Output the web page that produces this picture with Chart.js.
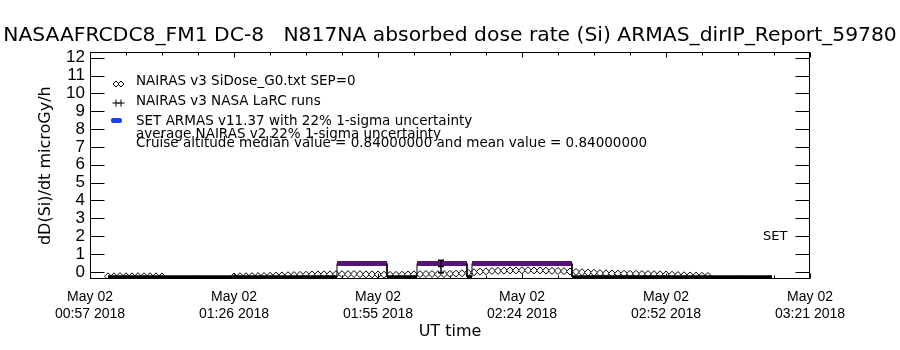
<!DOCTYPE html>
<html>
<head>
<meta charset="utf-8">
<script src="https://cdn.jsdelivr.net/npm/chart.js@4.4.0/dist/chart.umd.min.js"></script>
<style>
  body { margin: 0; background: #fff; }
  canvas { display: block; }
</style>
</head>
<body>
<canvas id="chart" width="900" height="350"></canvas>
<script>
const titleText = 'NASAAFRCDC8_FM1 DC-8   N817NA absorbed dose rate (Si) ARMAS_dirIP_Report_59780';
const yTitle = 'dD(Si)/dt microGy/h';
const xTitle = 'UT time';

// x values are minutes after 00:00 UT on May 02 2018
const xTickMinutes = [57.7, 86.5, 115.3, 144.1, 172.9, 201.7];
const xTickLabels = [
  ['May 02', '00:57 2018'],
  ['May 02', '01:26 2018'],
  ['May 02', '01:55 2018'],
  ['May 02', '02:24 2018'],
  ['May 02', '02:52 2018'],
  ['May 02', '03:21 2018']
];
const yTickValues = [0, 1, 2, 3, 4, 5, 6, 7, 8, 9, 10, 11, 12];

const legendLabels = [
  'NAIRAS v3 SiDose_G0.txt SEP=0',
  'NAIRAS v3 NASA LaRC runs',
  'SET ARMAS v11.37 with 22% 1-sigma uncertainty'
];
const noteLines = [
  'average NAIRAS v2 22% 1-sigma uncertainty',
  'Cruise altitude median value = 0.84000000 and mean value = 0.84000000'
];
const instrumentLabel = 'SET';

// SET ARMAS: flat at the floor, with three measured plateaus
const armasFirst = 61.3;
const armasLast = 194.1;
const armasFloor = -0.28;
const armasStart = [107.1, 123.1, 134.1];
const armasEnd = [117.1, 133.1, 154.1];
const armasDose = [0.47, 0.47, 0.47];

// NAIRAS v3 G0, one sample every 1.2 min
const nairasStart = 61.3;
const nairasStep = 1.2;
const nairasDose = [
  -0.25, -0.25, -0.24, -0.25, -0.25, -0.24, -0.25, -0.25, -0.25, -0.26,
  null, null, null, null, null, null, null, null, null, null, null,
  -0.26, -0.25, -0.25, -0.24, -0.24, -0.23, -0.22,
  -0.21, -0.2, -0.19, -0.18, -0.17, -0.16, -0.15, -0.15, -0.14, -0.14, -0.13,
  -0.13, -0.13, -0.12, -0.13, -0.14, -0.14, -0.15, -0.16, -0.17, -0.17, -0.16,
  -0.15, -0.14, -0.13, -0.12, -0.12, -0.13, -0.12, -0.11, -0.1, -0.08, -0.05,
  -0.02, 0.01, 0.03, 0.05, 0.06, 0.07, 0.08, 0.08, 0.09, 0.09, 0.08, 0.08,
  0.07, 0.06, 0.05, 0.04, 0.02, 0.0,
  -0.02, -0.04, -0.05, -0.07, -0.08, -0.09, -0.1, -0.1, -0.11, -0.11, -0.12,
  -0.12, -0.13, -0.14, -0.15, -0.16, -0.18, -0.19, -0.2, -0.21, -0.22, -0.23
];

// NAIRAS v3 LaRC run with error bar
const larcTime = [127.9];
const larcDose = [0.3];
const larcErr = [0.35];

const purple = '#5a1278';
const blue = '#1e3cff';

const armasPoints = [{x: armasFirst, y: armasFloor}];
armasStart.forEach((t, i) => {
  armasPoints.push({x: t, y: armasFloor});
  armasPoints.push({x: t, y: armasDose[i]});
  armasPoints.push({x: armasEnd[i], y: armasDose[i]});
  armasPoints.push({x: armasEnd[i], y: armasFloor});
});
armasPoints.push({x: armasLast, y: armasFloor});

const nairasPoints = nairasDose.map((v, i) => ({x: nairasStart + i * nairasStep, y: v}));
const larcPoints = larcTime.map((t, i) => ({x: t, y: larcDose[i]}));

function onPlateau(c) {
  return c.p0.parsed.y > 0 && c.p1.parsed.y > 0;
}

const errorBars = {
  id: 'errorBars',
  afterDatasetsDraw(chart) {
    const {ctx, scales: {x, y}} = chart;
    ctx.save();
    ctx.strokeStyle = 'black';
    ctx.lineWidth = 1.5;
    ctx.beginPath();
    larcTime.forEach((t, i) => {
      const px = Math.round(x.getPixelForValue(t));
      const top = y.getPixelForValue(larcDose[i] + larcErr[i]);
      const bot = y.getPixelForValue(larcDose[i] - larcErr[i]);
      ctx.moveTo(px, top); ctx.lineTo(px, bot);
      ctx.moveTo(px - 3, top); ctx.lineTo(px + 3, top);
      ctx.moveTo(px - 3, bot); ctx.lineTo(px + 3, bot);
    });
    ctx.stroke();
    ctx.restore();
  }
};

const frame = {
  id: 'frame',
  afterDraw(chart) {
    const {ctx, chartArea: a, scales: {x, y}} = chart;
    const L = Math.round(a.left) + 0.5, R = Math.round(a.right) - 0.5;
    const T = Math.round(a.top) + 0.5, B = Math.round(a.bottom) - 0.5;
    ctx.save();
    ctx.strokeStyle = 'black';
    ctx.lineWidth = 1;
    ctx.strokeRect(L, T, R - L, B - T);
    ctx.beginPath();
    yTickValues.forEach(v => {
      const py = Math.round(y.getPixelForValue(v)) + 0.5;
      ctx.moveTo(L, py); ctx.lineTo(L + 14, py);
      ctx.moveTo(R, py); ctx.lineTo(R - 14, py);
    });
    xTickMinutes.forEach((v, i) => {
      const px = Math.round(x.getPixelForValue(v)) + 0.5;
      ctx.moveTo(px, T); ctx.lineTo(px, T + 5);
      ctx.moveTo(px, B); ctx.lineTo(px, B - 5);
      if (i < xTickMinutes.length - 1) {
        for (let k = 1; k < 4; k++) {
          const m = v + (xTickMinutes[i + 1] - v) * k / 4;
          const mx = Math.round(x.getPixelForValue(m)) + 0.5;
          ctx.moveTo(mx, T); ctx.lineTo(mx, T + 3);
          ctx.moveTo(mx, B); ctx.lineTo(mx, B - 3);
        }
      }
    });
    ctx.stroke();

    // legend block inside the plot
    const rows = [81, 101, 121];
    const notes = [134, 143];
    ctx.fillStyle = 'black';
    ctx.font = '13.5px "DejaVu Sans"';
    ctx.textBaseline = 'middle';
    ctx.textAlign = 'left';
    legendLabels.forEach((t, i) => ctx.fillText(t, 136, rows[i]));
    noteLines.forEach((t, i) => ctx.fillText(t, 136, notes[i]));

    ctx.fillStyle = 'white';
    ctx.strokeStyle = 'black';
    Chart.helpers.drawPoint(ctx, {pointStyle: 'rectRot', radius: 3, borderWidth: 1}, 116, rows[0] + 3);
    ctx.fillStyle = 'white';
    Chart.helpers.drawPoint(ctx, {pointStyle: 'rectRot', radius: 3, borderWidth: 1}, 121, rows[0] + 3);
    Chart.helpers.drawPoint(ctx, {pointStyle: 'cross', radius: 3.5, borderWidth: 1}, 116, rows[1] + 2);
    Chart.helpers.drawPoint(ctx, {pointStyle: 'cross', radius: 3.5, borderWidth: 1}, 121, rows[1] + 2);
    ctx.fillStyle = blue;
    ctx.beginPath();
    ctx.roundRect(111, rows[2] - 3, 11, 5, 2);
    ctx.fill();

    ctx.fillStyle = 'black';
    ctx.font = '13px "DejaVu Sans"';
    ctx.fillText(instrumentLabel, 763, 237);
    ctx.restore();
  }
};

const ctx = document.getElementById('chart').getContext('2d');
const myChart = new Chart(ctx, {
  type: 'line',
  data: {
    datasets: [
      {
        label: legendLabels[1],
        data: larcPoints,
        showLine: false,
        pointStyle: 'line',
        pointRadius: 3,
        pointBorderColor: 'black',
        pointBorderWidth: 1.5,
        order: -1
      },
      {
        label: legendLabels[2],
        data: armasPoints,
        borderColor: 'black',
        borderWidth: 3,
        pointRadius: 0,
        segment: {
          borderColor: c => onPlateau(c) ? purple : 'black',
          borderWidth: c => onPlateau(c) ? 5 : (c.p0.parsed.y === c.p1.parsed.y ? 3 : 1)
        }
      },
      {
        label: legendLabels[0],
        data: nairasPoints,
        showLine: false,
        pointStyle: 'rectRot',
        pointRadius: 3.5,
        pointBackgroundColor: 'white',
        pointBorderColor: 'black',
        pointBorderWidth: 1
      }
    ]
  },
  options: {
    responsive: false,
    animation: false,
    layout: {padding: 0},
    plugins: {
      legend: {display: false},
      tooltip: {enabled: false},
      title: {
        display: true,
        text: titleText,
        color: 'black',
        font: {family: 'DejaVu Sans', size: 20.3, weight: 'normal', lineHeight: 1.2},
        padding: {top: 24, bottom: 4}
      }
    },
    scales: {
      x: {
        type: 'linear',
        min: xTickMinutes[0],
        max: xTickMinutes[xTickMinutes.length - 1],
        afterBuildTicks: s => { s.ticks = xTickMinutes.map(v => ({value: v})); },
        afterFit: s => { s.height = 71; },
        grid: {display: false, drawTicks: false},
        border: {display: false},
        ticks: {
          autoSkip: false,
          maxRotation: 0,
          padding: 10,
          color: 'black',
          font: {family: 'Liberation Sans', size: 14},
          callback: (v, i) => xTickLabels[i]
        },
        title: {
          display: true,
          text: xTitle,
          color: 'black',
          font: {family: 'DejaVu Sans', size: 16},
          padding: {top: 0, bottom: 9}
        }
      },
      y: {
        position: 'left',
        min: -0.4,
        max: 12.3,
        afterBuildTicks: s => { s.ticks = yTickValues.map(v => ({value: v})); },
        afterFit: s => { s.width = 90; },
        grid: {display: false, drawTicks: false},
        border: {display: false},
        ticks: {
          autoSkip: false,
          padding: 5,
          color: 'black',
          font: {family: 'Liberation Sans', size: 17},
          callback: v => String(v)
        },
        title: {
          display: true,
          text: yTitle,
          color: 'black',
          font: {family: 'DejaVu Sans', size: 16},
          padding: {top: 36, bottom: 0}
        }
      },
      yRight: {
        position: 'right',
        min: 0,
        max: 1,
        afterFit: s => { s.width = 90; },
        grid: {display: false, drawTicks: false},
        border: {display: false},
        ticks: {display: false}
      }
    }
  },
  plugins: [errorBars, frame]
});
</script>
</body>
</html>
